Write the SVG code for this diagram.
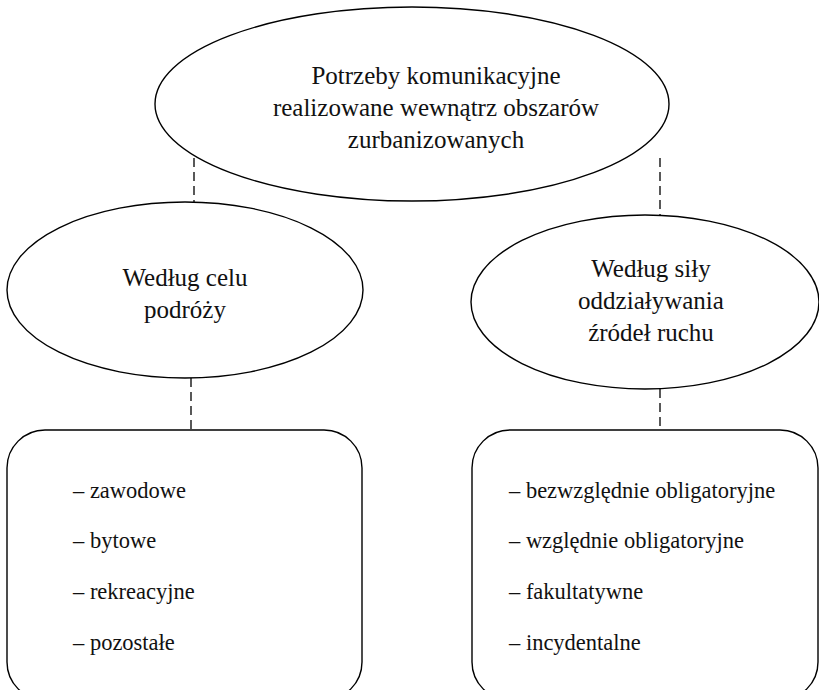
<svg xmlns="http://www.w3.org/2000/svg" width="819" height="690" viewBox="0 0 819 690">
  <style>
    .shape { fill: #ffffff; stroke: #000000; stroke-width: 1.4; }
    .link { stroke: #000000; stroke-width: 1.3; stroke-dasharray: 9 5; fill: none; }
    .label { font-size: 25px; fill: #111111; }
    .item { font-size: 22.5px; fill: #111111; }
    .mid { text-anchor: middle; }
  </style>
  <rect width="819" height="690" fill="#ffffff"/>

  <!-- dashed connectors between the levels -->
  <g id="connectors">
    <line class="link" x1="194" y1="158" x2="194" y2="202"/>
    <line class="link" x1="660" y1="158" x2="660" y2="215"/>
    <line class="link" x1="191" y1="378" x2="191" y2="430"/>
    <line class="link" x1="660" y1="389" x2="660" y2="430"/>
  </g>

  <g id="root">
    <ellipse class="shape" cx="412" cy="104" rx="257" ry="97"/>
    <text class="label mid" font-family="Times New Roman, Liberation Serif, serif" x="436" y="84">Potrzeby komunikacyjne</text>
    <text class="label mid" font-family="Times New Roman, Liberation Serif, serif" x="436" y="116">realizowane wewnątrz obszarów</text>
    <text class="label mid" font-family="Times New Roman, Liberation Serif, serif" x="436" y="148">zurbanizowanych</text>
  </g>

  <g id="by-purpose">
    <ellipse class="shape" cx="185" cy="290" rx="178" ry="88"/>
    <text class="label mid" font-family="Times New Roman, Liberation Serif, serif" x="185" y="286">Według celu</text>
    <text class="label mid" font-family="Times New Roman, Liberation Serif, serif" x="185" y="318">podróży</text>
  </g>

  <g id="by-source">
    <ellipse class="shape" cx="645" cy="302" rx="174" ry="87"/>
    <text class="label mid" font-family="Times New Roman, Liberation Serif, serif" x="651" y="277">Według siły</text>
    <text class="label mid" font-family="Times New Roman, Liberation Serif, serif" x="651" y="309">oddziaływania</text>
    <text class="label mid" font-family="Times New Roman, Liberation Serif, serif" x="651" y="341">źródeł ruchu</text>
  </g>

  <g id="purpose-list">
    <rect class="shape" x="7" y="430" width="355" height="270" rx="38" ry="38"/>
    <text class="item" font-family="Times New Roman, Liberation Serif, serif" x="73" y="498">– zawodowe</text>
    <text class="item" font-family="Times New Roman, Liberation Serif, serif" x="73" y="548">– bytowe</text>
    <text class="item" font-family="Times New Roman, Liberation Serif, serif" x="73" y="599">– rekreacyjne</text>
    <text class="item" font-family="Times New Roman, Liberation Serif, serif" x="73" y="650">– pozostałe</text>
  </g>

  <g id="source-list">
    <rect class="shape" x="472" y="430" width="346" height="270" rx="38" ry="38"/>
    <text class="item" font-family="Times New Roman, Liberation Serif, serif" x="509" y="498">– bezwzględnie obligatoryjne</text>
    <text class="item" font-family="Times New Roman, Liberation Serif, serif" x="509" y="548">– względnie obligatoryjne</text>
    <text class="item" font-family="Times New Roman, Liberation Serif, serif" x="509" y="599">– fakultatywne</text>
    <text class="item" font-family="Times New Roman, Liberation Serif, serif" x="509" y="650">– incydentalne</text>
  </g>
</svg>
